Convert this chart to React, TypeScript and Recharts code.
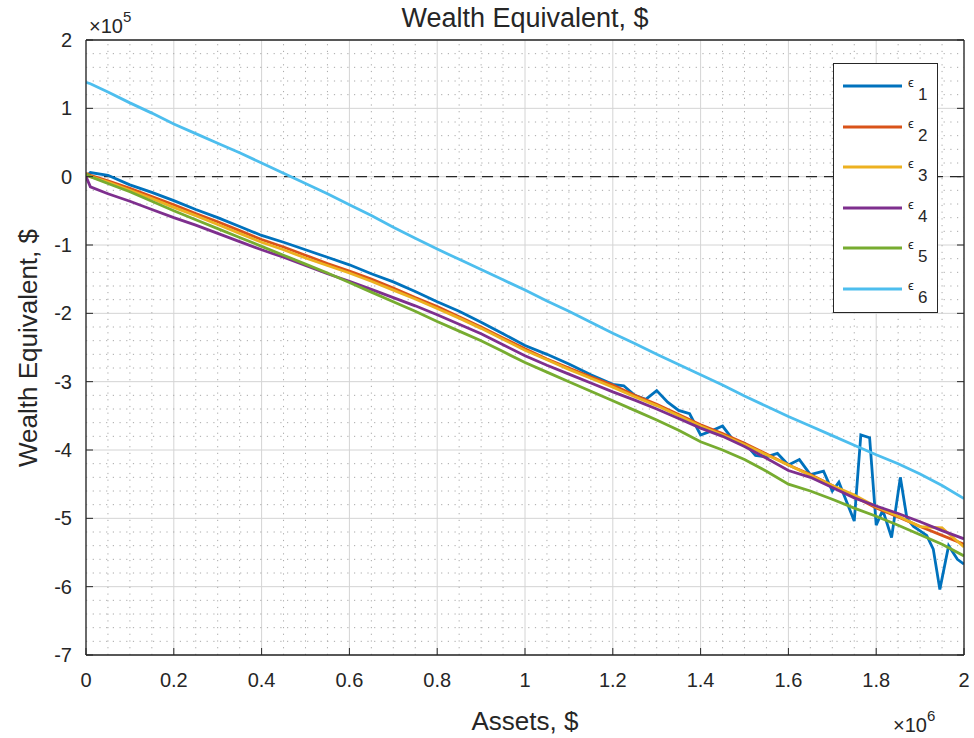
import React from 'react'
import {
  LineChart,
  Line,
  XAxis,
  YAxis,
  CartesianGrid,
  ReferenceLine,
} from 'recharts'

// assets in units of 1e6 $, wealth equivalent in units of 1e5 $
const assets = [
  0, 0.01, 0.05, 0.1, 0.15, 0.2, 0.25, 0.3, 0.35, 0.4, 0.45, 0.5, 0.55, 0.6,
  0.65, 0.7, 0.75, 0.8, 0.85, 0.9, 0.95, 1.0, 1.05, 1.1, 1.15, 1.2, 1.25, 1.3,
  1.35, 1.4, 1.45, 1.5, 1.55, 1.6, 1.65, 1.7, 1.75, 1.8, 1.85, 1.9, 1.95, 2.0,
]

// eps1 is noisier towards the end, so it gets its own finer x grid
const eps1Assets = [
  0, 0.01, 0.05, 0.1, 0.15, 0.2, 0.25, 0.3, 0.35, 0.4, 0.45, 0.5, 0.55, 0.6,
  0.65, 0.7, 0.75, 0.8, 0.85, 0.9, 0.95, 1.0, 1.05, 1.1, 1.15, 1.2, 1.225,
  1.25, 1.275, 1.3, 1.325, 1.35, 1.375, 1.4, 1.425, 1.45, 1.475, 1.5, 1.525,
  1.55, 1.575, 1.6, 1.625, 1.65, 1.68, 1.7, 1.715, 1.75, 1.765, 1.785, 1.8,
  1.815, 1.835, 1.855, 1.87, 1.885, 1.915, 1.93, 1.945, 1.965, 1.985, 2.0,
]
const eps1 = [
  0.0, 0.06, 0.02, -0.12, -0.23, -0.35, -0.48, -0.6, -0.73, -0.86, -0.96,
  -1.07, -1.18, -1.29, -1.42, -1.54, -1.68, -1.83, -1.97, -2.13, -2.3, -2.47,
  -2.6, -2.74, -2.9, -3.04, -3.06, -3.2, -3.26, -3.13, -3.3, -3.42, -3.47,
  -3.78, -3.72, -3.65, -3.86, -3.9, -4.08, -4.1, -4.05, -4.22, -4.14, -4.36,
  -4.31, -4.6, -4.47, -5.04, -3.78, -3.82, -5.1, -4.88, -5.28, -4.4, -5.0,
  -5.12, -5.25, -5.45, -6.04, -5.4, -5.6, -5.67,
]
const eps2 = [
  0.05, 0.02, -0.06, -0.17, -0.29, -0.41, -0.54, -0.66, -0.79, -0.92, -1.03,
  -1.15, -1.27, -1.38, -1.5, -1.63, -1.77, -1.9, -2.05, -2.2, -2.36, -2.52,
  -2.67, -2.8, -2.93, -3.05, -3.2, -3.33, -3.48, -3.63, -3.76, -3.9, -4.06,
  -4.22, -4.36, -4.52, -4.68, -4.85, -4.98, -5.12, -5.25, -5.38,
]
const eps3 = [
  0.03, 0.0, -0.08, -0.2, -0.32, -0.45, -0.57, -0.7, -0.83, -0.96, -1.07,
  -1.19, -1.3, -1.41, -1.53, -1.66, -1.79, -1.93, -2.07, -2.22, -2.38, -2.54,
  -2.68, -2.82, -2.95, -3.08, -3.22, -3.35, -3.5, -3.65, -3.78, -3.92, -4.07,
  -4.22, -4.37, -4.52, -4.66, -4.83, -4.97, -5.12, -5.14, -5.42,
]
const eps4 = [
  0.0, -0.15, -0.25, -0.36, -0.48, -0.6, -0.71, -0.83, -0.95, -1.07, -1.18,
  -1.3, -1.42, -1.53, -1.65, -1.77, -1.89, -2.02, -2.16, -2.3, -2.46, -2.62,
  -2.76, -2.89, -3.02, -3.15, -3.27, -3.4, -3.54, -3.68, -3.8, -3.95, -4.12,
  -4.3, -4.4, -4.55, -4.7, -4.82, -4.93, -5.05, -5.18, -5.3,
]
const eps5 = [
  0.04, 0.0, -0.1, -0.22, -0.36, -0.5, -0.63, -0.76, -0.89, -1.02, -1.15,
  -1.28, -1.41, -1.55, -1.69, -1.83, -1.97, -2.12, -2.26, -2.4, -2.56, -2.72,
  -2.86, -3.0, -3.14, -3.28, -3.42, -3.56, -3.71, -3.88, -4.0, -4.14, -4.31,
  -4.5, -4.6, -4.72, -4.85, -4.97, -5.1, -5.24, -5.38, -5.55,
]
const eps6 = [
  1.38, 1.36, 1.24, 1.08, 0.93, 0.77, 0.63, 0.49, 0.35, 0.2, 0.05, -0.1,
  -0.25, -0.41, -0.57, -0.74, -0.9, -1.06, -1.21, -1.36, -1.51, -1.66, -1.82,
  -1.97, -2.13, -2.29, -2.44, -2.6, -2.75, -2.9, -3.05, -3.21, -3.36, -3.51,
  -3.65, -3.79, -3.93, -4.07, -4.2, -4.35, -4.52, -4.71,
]

const xTicks = [0, 0.2, 0.4, 0.6, 0.8, 1, 1.2, 1.4, 1.6, 1.8, 2]
const yTicks = [-7, -6, -5, -4, -3, -2, -1, 0, 1, 2]

// minor grid: every 0.05 on x, every 0.2 on y
const xMinor: number[] = []
for (let i = 1; i < 40; i++) if (i % 4 !== 0) xMinor.push(+(i * 0.05).toFixed(2))
const yMinor: number[] = []
for (let k = -34; k < 10; k++) if (k % 5 !== 0) yMinor.push(+(k * 0.2).toFixed(1))

const toRows = (xs: number[], ys: number[]) => xs.map((x, i) => ({ x, y: ys[i] }))

const series = [
  { id: '1', color: '#0072BD', data: toRows(eps1Assets, eps1) },
  { id: '2', color: '#D95319', data: toRows(assets, eps2) },
  { id: '3', color: '#EDB120', data: toRows(assets, eps3) },
  { id: '4', color: '#7E2F8E', data: toRows(assets, eps4) },
  { id: '5', color: '#77AC30', data: toRows(assets, eps5) },
  { id: '6', color: '#4DBEEE', data: toRows(assets, eps6) },
]

const FONT = '"Liberation Sans", Arial, Helvetica, sans-serif'
const INK = '#262626'
const LINE_W = 2.8
const tickStyle = { fill: INK, fontSize: 20, fontFamily: FONT }
const axisLine = { stroke: INK, strokeWidth: 1.3 }
const blank = () => ''

function LegendBox() {
  return (
    <div
      style={{
        position: 'absolute',
        left: 833,
        top: 63,
        width: 105,
        height: 250,
        boxSizing: 'border-box',
        border: `1.3px solid ${INK}`,
        background: '#fff',
      }}
    >
      {series.map((s, i) => (
        <svg
          key={s.id}
          width={100}
          height={36}
          style={{ position: 'absolute', left: 0, top: 23 + i * 40.6 - 16 }}
        >
          <line x1={9} x2={68} y1={15} y2={15} stroke={s.color} strokeWidth={LINE_W} />
          <text x={74} y={16} fontSize={13} fill={INK} fontFamily={FONT}>
            ϵ
          </text>
          <text x={84} y={29} fontSize={17} fill={INK} fontFamily={FONT}>
            {s.id}
          </text>
        </svg>
      ))}
    </div>
  )
}

export default function App() {
  return (
    <div
      style={{
        position: 'absolute',
        left: 0,
        top: 0,
        width: 974,
        height: 738,
        background: '#fff',
        fontFamily: FONT,
      }}
    >
      <LineChart
        width={974}
        height={738}
        margin={{ top: 30, right: 5, bottom: 53, left: 26 }}
      >
        <CartesianGrid stroke="#d4d4d4" strokeWidth={1} />
        {xMinor.map((v) => (
          <ReferenceLine key={'xm' + v} x={v} stroke="#a8a8a8" strokeDasharray="1.2 5.5" />
        ))}
        {yMinor.map((v) => (
          <ReferenceLine key={'ym' + v} y={v} stroke="#a8a8a8" strokeDasharray="1.2 5.5" />
        ))}
        <XAxis
          dataKey="x"
          type="number"
          domain={[0, 2]}
          ticks={xTicks}
          interval={0}
          height={30}
          tickSize={-7}
          tickMargin={25}
          tick={tickStyle}
          axisLine={axisLine}
          tickLine={{ stroke: INK }}
          allowDataOverflow
        />
        <XAxis
          xAxisId="top"
          orientation="top"
          type="number"
          domain={[0, 2]}
          ticks={xTicks}
          interval={0}
          height={10}
          tickSize={-7}
          tickFormatter={blank}
          axisLine={axisLine}
          tickLine={{ stroke: INK }}
          allowDataOverflow
        />
        <YAxis
          type="number"
          domain={[-7, 2]}
          ticks={yTicks}
          interval={0}
          width={60}
          tickSize={-7}
          tickMargin={21}
          tick={tickStyle}
          axisLine={axisLine}
          tickLine={{ stroke: INK }}
          allowDataOverflow
        />
        <YAxis
          yAxisId="right"
          orientation="right"
          type="number"
          domain={[-7, 2]}
          ticks={yTicks}
          interval={0}
          width={5}
          tickSize={-7}
          tickFormatter={blank}
          axisLine={axisLine}
          tickLine={{ stroke: INK }}
          allowDataOverflow
        />
        <ReferenceLine y={0} stroke={INK} strokeWidth={1.3} strokeDasharray="11 7" />
        {series.map((s) => (
          <Line
            key={s.id}
            data={s.data}
            dataKey="y"
            type="linear"
            stroke={s.color}
            strokeWidth={LINE_W}
            dot={false}
            activeDot={false}
            isAnimationActive={false}
          />
        ))}
      </LineChart>

      <svg
        width={974}
        height={738}
        style={{ position: 'absolute', left: 0, top: 0, pointerEvents: 'none' }}
        fontFamily={FONT}
        fill={INK}
      >
        <text x={525} y={27} textAnchor="middle" fontSize={27}>
          Wealth Equivalent, $
        </text>
        <text transform="translate(37 348) rotate(-90)" textAnchor="middle" fontSize={26}>
          Wealth Equivalent, $
        </text>
        <text x={525} y={730} textAnchor="middle" fontSize={26}>
          Assets, $
        </text>
        <text x={89} y={33} fontSize={20}>
          ×10
          <tspan dy={-11} fontSize={15}>
            5
          </tspan>
        </text>
        <text x={893} y={732} fontSize={20}>
          ×10
          <tspan dy={-11} fontSize={15}>
            6
          </tspan>
        </text>
      </svg>

      <LegendBox />
    </div>
  )
}
